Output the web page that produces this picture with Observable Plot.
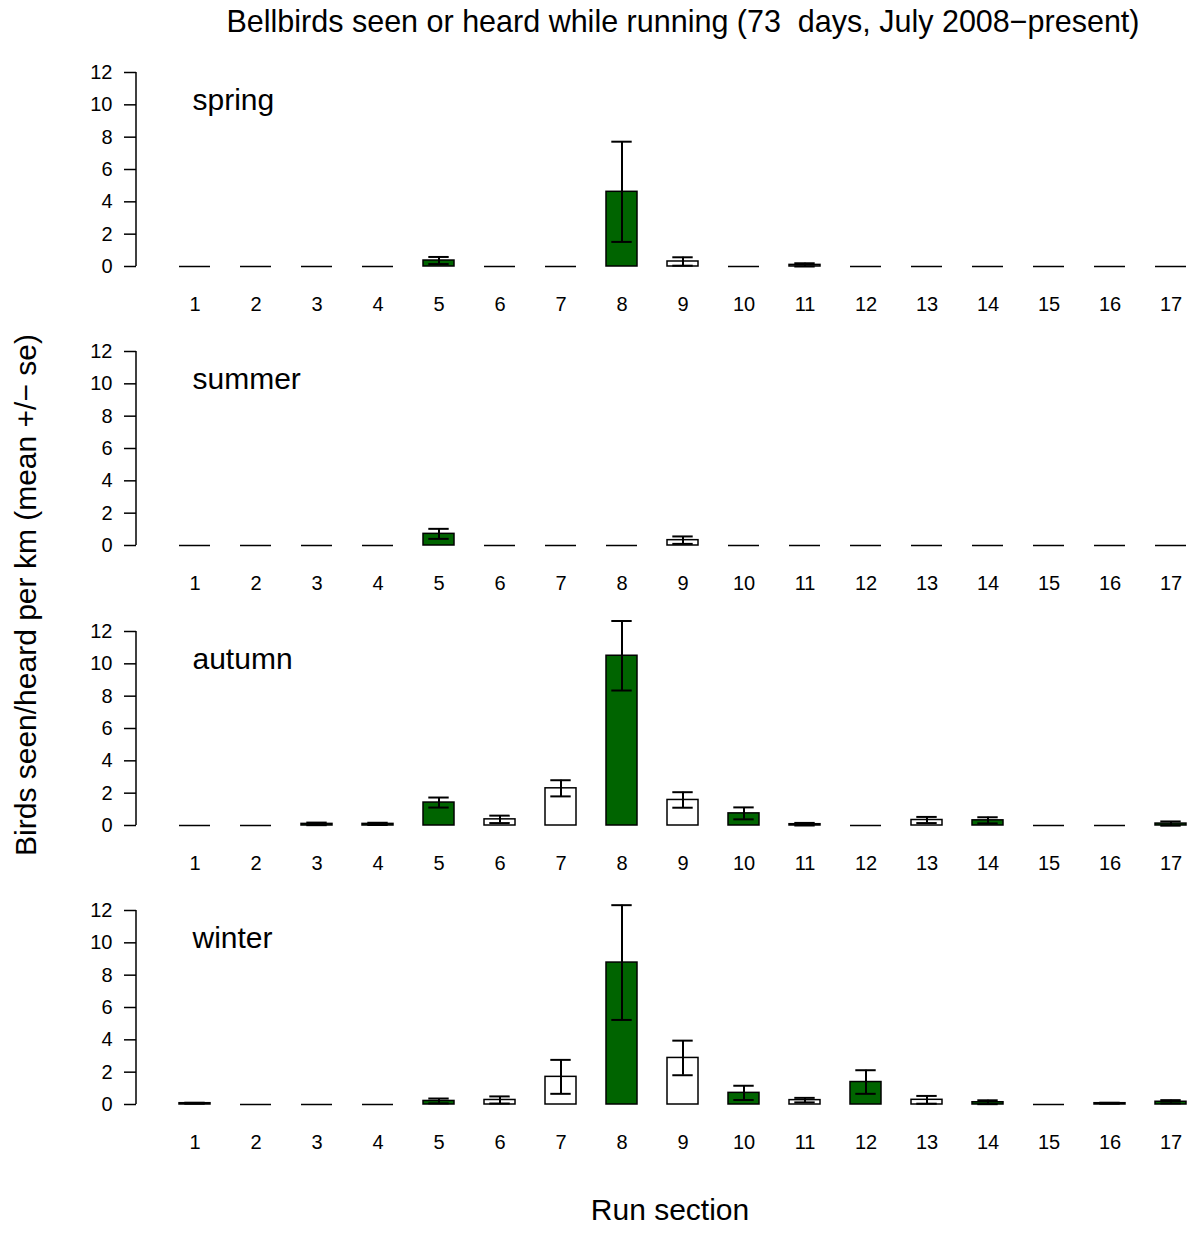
<!DOCTYPE html>
<html>
<head>
<meta charset="utf-8">
<script src="https://cdn.jsdelivr.net/npm/d3@7"></script>
<script src="https://cdn.jsdelivr.net/npm/@observablehq/plot@0.6"></script>
<style>
  body { margin: 0; background: #fff; }
  #wrap { position: relative; width: 1192px; height: 1237px; background: #fff; font-family: "Liberation Sans", Arial, Helvetica, sans-serif; }
  #wrap svg.panel { position: absolute; left: 0; overflow: visible; }
  #labels { position: absolute; left: 0; top: 0; }
  #labels text { white-space: pre; }
</style>
</head>
<body>
<div id="wrap">
  <svg id="labels" width="1192" height="1237" font-family="Liberation Sans, Arial, Helvetica, sans-serif" font-size="30" fill="black">
    <text x="683" y="32" text-anchor="middle" font-size="30.5" xml:space="preserve">Bellbirds seen or heard while running (73  days, July 2008−present)</text>
    <text transform="translate(36,595) rotate(-90)" text-anchor="middle">Birds seen/heard per km (mean +/− se)</text>
    <text x="670" y="1220" text-anchor="middle">Run section</text>
  </svg>
</div>
<script>
const sections = ["1","2","3","4","5","6","7","8","9","10","11","12","13","14","15","16","17"];
const openSections = ["6","7","9","11","13"];
const seasons = ["spring","summer","autumn","winter"];
const yTicks = [0, 2, 4, 6, 8, 10, 12];

const springMean = [0,0,0,0,0.37,0,0,4.62,0.31,0,0.10,0,0,0,0,0,0];
const springSe   = [0,0,0,0,0.22,0,0,3.10,0.26,0,0.10,0,0,0,0,0,0];
const summerMean = [0,0,0,0,0.72,0,0,0,0.33,0,0,0,0,0,0,0,0];
const summerSe   = [0,0,0,0,0.31,0,0,0,0.23,0,0,0,0,0,0,0,0];
const autumnMean = [0,0,0.10,0.10,1.42,0.38,2.30,10.50,1.58,0.75,0.08,0,0.34,0.32,0,0,0.12];
const autumnSe   = [0,0,0.08,0.07,0.31,0.23,0.50,2.15,0.48,0.37,0.08,0,0.19,0.19,0,0,0.13];
const winterMean = [0.08,0,0,0,0.22,0.28,1.71,8.78,2.88,0.72,0.27,1.39,0.29,0.14,0,0.08,0.17];
const winterSe   = [0.03,0,0,0,0.15,0.22,1.05,3.55,1.07,0.44,0.14,0.73,0.24,0.12,0,0.03,0.10];

const means = [springMean, summerMean, autumnMean, winterMean];
const ses = [springSe, summerSe, autumnSe, winterSe];

const wrap = document.getElementById("wrap");
const panelHeight = 279;
const panelStep = 279.3;

function yAxisLine(index, scales, values, dimensions) {
  const y = scales.y;
  return d3.create("svg:line")
    .attr("x1", dimensions.marginLeft).attr("x2", dimensions.marginLeft)
    .attr("y1", y(yTicks[0])).attr("y2", y(yTicks[yTicks.length - 1]))
    .attr("stroke", "black").attr("stroke-width", 1.5)
    .node();
}

seasons.forEach((season, k) => {
  const rows = sections.map((s, i) => ({
    section: s,
    mean: means[k][i],
    se: ses[k][i],
    lo: means[k][i] - ses[k][i],
    hi: means[k][i] + ses[k][i],
    open: openSections.includes(s)
  }));
  const withErr = rows.filter(d => d.se > 0);
  const zeroBars = rows.filter(d => d.mean === 0);

  const chart = Plot.plot({
    width: 1192,
    height: panelHeight,
    marginLeft: 136,
    marginRight: 0,
    marginTop: 22,
    marginBottom: 63,
    style: { fontFamily: "Liberation Sans, Arial, Helvetica, sans-serif", fontSize: "20px", color: "black", background: "transparent", overflow: "visible" },
    x: { type: "band", domain: sections, range: [161.35, 1203.45], paddingInner: 0.5, paddingOuter: 0.25, label: null },
    y: { domain: [0, 12], label: null },
    marks: [
      Plot.axisY({ ticks: yTicks, tickSize: 12, tickPadding: 12, label: null, strokeWidth: 1.5, fontSize: 20 }),
      yAxisLine,
      Plot.axisX({ tickSize: 0, tickPadding: 30, label: null, fontSize: 20 }),
      Plot.barY(rows, { x: "section", y: "mean", fill: d => d.open ? "white" : "#006400", stroke: "black", strokeWidth: 1.5 }),
      Plot.tickY(zeroBars, { x: "section", y: "mean", stroke: "black", strokeWidth: 1.5 }),
      Plot.ruleX(withErr, { x: "section", y1: "lo", y2: "hi", stroke: "black", strokeWidth: 2 }),
      Plot.tickY(withErr, { x: "section", y: "hi", insetLeft: 5.3, insetRight: 5.3, stroke: "black", strokeWidth: 2 }),
      Plot.tickY(withErr, { x: "section", y: "lo", insetLeft: 5.3, insetRight: 5.3, stroke: "black", strokeWidth: 2 }),
      Plot.text([season], { text: d => d, frameAnchor: "top-left", dx: 56, dy: 37, textAnchor: "start", lineAnchor: "bottom", fontSize: 30, fill: "black" })
    ]
  });
  chart.classList.add("panel");
  chart.style.position = "absolute";
  chart.style.left = "0px";
  chart.style.top = (50 + k * panelStep) + "px";
  wrap.appendChild(chart);
});
</script>
</body>
</html>
